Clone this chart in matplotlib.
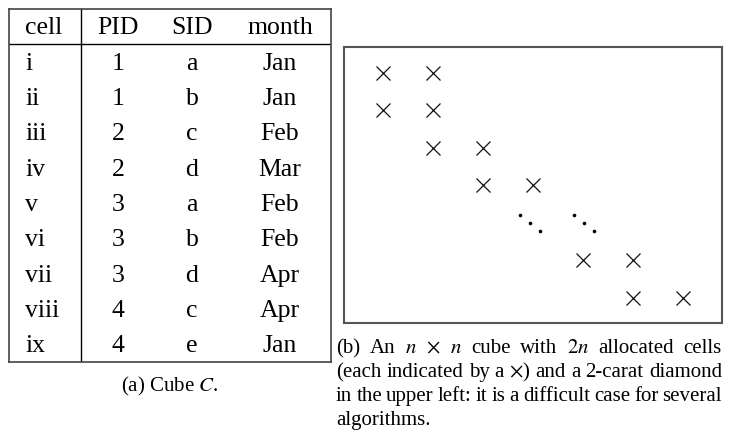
import matplotlib
matplotlib.use("Agg")
import matplotlib.pyplot as plt
from matplotlib.transforms import ScaledTranslation

plt.rcParams['font.family'] = ['Liberation Serif', 'DejaVu Serif']
plt.rcParams['mathtext.fontset'] = 'stix'

# (a) cube C
columns = ['cell', 'PID', 'SID', 'month']
cells = ['i', 'ii', 'iii', 'iv', 'v', 'vi', 'vii', 'viii', 'ix']
pids = [1, 1, 2, 2, 3, 3, 3, 4, 4]
sids = ['a', 'b', 'c', 'd', 'a', 'b', 'd', 'c', 'e']
months = ['Jan', 'Jan', 'Feb', 'Mar', 'Feb', 'Feb', 'Apr', 'Apr', 'Jan']

# (b) allocated cells of the n x n cube (row, col); row 4 holds the ellipses
alloc_rows = [0, 0, 1, 1, 2, 2, 3, 3, 5, 5, 6, 6]
alloc_cols = [0, 1, 0, 1, 1, 2, 2, 3, 4, 5, 5, 6]
dots_rows = [4, 4]
dots_cols = [2.93, 4.02]

caption_a = r'(a) Cube $C$.'
caption_b = [
    ['(b)', 'An', '$n$', r'$\times$', '$n$', 'cube', 'with', '$2n$', 'allocated', 'cells'],
    ['(each', 'indicated', 'by', 'a', r'$\times$)', 'and', 'a', '2-carat', 'diamond'],
    'in the upper left: it is a difficult case for several'.split(),
    ['algorithms.'],
]

W, H = 729, 430
fig = plt.figure(figsize=(W / 100, H / 100), dpi=100)


def px_box(x0, y0, x1, y1):
    """Figure-fraction rect from pixel box (top-left origin)."""
    return [x0 / W, 1 - y1 / H, (x1 - x0) / W, (y1 - y0) / H]


# ---- table ----
tab = fig.add_axes(px_box(9, 9, 331, 362))
tab.set_xlim(0, 322)
tab.set_ylim(10, 0)
tab.set_xticks([])
tab.set_yticks([])
for sp in tab.spines.values():
    sp.set_color('#444444')
    sp.set_linewidth(1.2)
tab.axhline(1, color='black', lw=1.0)
tab.axvline(72, color='black', lw=1.0)

col_x = [16, 109, 183, 271]
col_ha = ['left', 'center', 'center', 'center']
fs_tab = 18.5
off = 0.22
for x, ha, name in zip(col_x, col_ha, columns):
    tab.text(x, 0.5 + off, name, ha=ha, va='baseline', fontsize=fs_tab)
for i, row in enumerate(zip(cells, pids, sids, months)):
    for x, ha, val in zip(col_x, col_ha, row):
        tab.text(x, i + 1.5 + off, str(val), ha=ha, va='baseline', fontsize=fs_tab)

fig.text(170 / W, 1 - 391 / H, caption_a, ha='center', va='baseline', fontsize=15)

# ---- cube sketch ----
ax = fig.add_axes(px_box(344, 47, 722, 323))
ax.set_xlim(-0.78, 6.78)
ax.set_ylim(6.667, -0.693)
ax.set_xticks([])
ax.set_yticks([])
for sp in ax.spines.values():
    sp.set_color('#555555')
    sp.set_linewidth(1.5)
ax.plot(alloc_cols, alloc_rows, 'x', color='#111111', ms=9.5, mew=0.9, linestyle='none')

# diagonal ellipses: three dots stepping down-right around each position
for dx, dy in [(-7.2, 5.8), (0, 0), (7.2, -5.8)]:
    shift = ax.transData + ScaledTranslation(dx / 72, dy / 72, fig.dpi_scale_trans)
    ax.plot(dots_cols, dots_rows, 'o', color='black', ms=2.6, mew=0,
            linestyle='none', transform=shift)

# ---- justified caption (b) ----
renderer = fig.canvas.get_renderer()
left, right = 336, 722
baselines = [353, 377, 401, 425]
fs_cap = 15
for k, (words, yb) in enumerate(zip(caption_b, baselines)):
    texts = [fig.text(0, 1 - yb / H, w, ha='left', va='baseline', fontsize=fs_cap) for w in words]
    widths = [t.get_window_extent(renderer).width for t in texts]
    if k == len(caption_b) - 1 or len(words) == 1:
        gap = 4.5
    else:
        gap = (right - left - sum(widths)) / (len(words) - 1)
    x = left
    for t, w in zip(texts, widths):
        t.set_x(x / W)
        x += w + gap

fig.savefig('out.png', dpi=100)
